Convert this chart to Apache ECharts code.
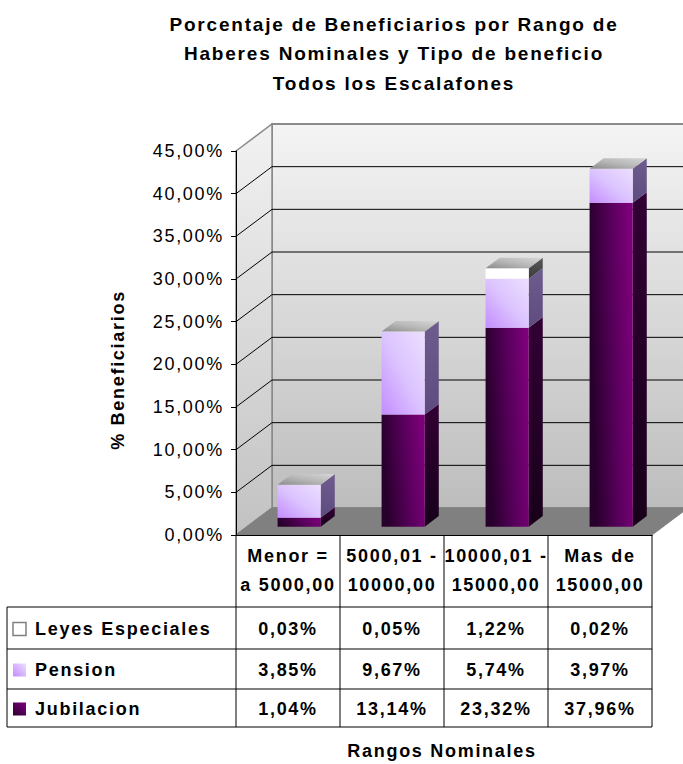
<!DOCTYPE html>
<html>
<head>
<meta charset="utf-8">
<script src="https://cdn.jsdelivr.net/npm/echarts@6/dist/echarts.min.js"></script>
<style>
html, body { margin: 0; padding: 0; background: #ffffff; }
#chart { width: 683px; height: 764px; }
#chart text { letter-spacing: 0.095em; }
</style>
</head>
<body>
<div id="chart"></div>
<script>
// ---------------- data ----------------
const categories = ['Menor =\na 5000,00', '5000,01 -\n10000,00', '10000,01 -\n15000,00', 'Mas de\n15000,00'];
const jubilacion = [1.04, 13.14, 23.32, 37.96];
const pension = [3.85, 9.67, 5.74, 3.97];
const leyesEspeciales = [0.03, 0.05, 1.22, 0.02];
const seriesNames = ['Jubilacion', 'Pension', 'Leyes Especiales'];
const yTicks = [0, 5, 10, 15, 20, 25, 30, 35, 40, 45];
const titleText = 'Porcentaje de Beneficiarios por Rango de\nHaberes Nominales y Tipo de beneficio\nTodos los Escalafones';
const yAxisTitle = '% Beneficiarios';
const xAxisTitle = 'Rangos Nominales';

// ---------------- styling ----------------
const FONT = '"Liberation Sans", Arial, sans-serif';
const DX = 36, DY = -27;            // depth of the 3D box
const BAR_FRONT = 0.31, BAR_DEPTH = 0.39, BAR_WIDTH = 0.415;
const TABLE_LEFT = 7;
const ROW_OFFSETS = [72, 114, 154, 192]; // header bottom and row bottoms below floor edge
const fmt = v => v.toFixed(2).replace('.', ',') + '%';
const LG = (x, y, x2, y2, stops) => new echarts.graphic.LinearGradient(x, y, x2, y2, stops.map((c, i) => ({ offset: i / (stops.length - 1), color: c })));

const seriesStyles = {
  'Jubilacion': {
    front: LG(0, 0.2, 1, 0, ['#28002c', '#58005c', '#82007e']),
    side: LG(0, 0, 0, 1, ['#320034', '#18001a']),
    key: LG(0, 1, 1, 0, ['#2a002e', '#800080'])
  },
  'Pension': {
    front: LG(0, 1, 1, 0, ['#c48cff', '#dcc4ff', '#ecdfff']),
    side: LG(0, 0, 0, 1, ['#6e5c8e', '#5e4c80']),
    key: LG(0, 1, 1, 0, ['#c48cff', '#ecdfff'])
  },
  'Leyes Especiales': {
    front: '#ffffff',
    side: LG(0, 0, 0, 1, ['#5a5a5a', '#3a3a3a']),
    key: '#ffffff'
  }
};
const topFill = LG(0, 1, 1, 0, ['#8c8c8c', '#b8b8b8', '#d6d6d6']);

const valuesByName = { 'Jubilacion': jubilacion, 'Pension': pension, 'Leyes Especiales': leyesEspeciales };
const tableRows = ['Leyes Especiales', 'Pension', 'Jubilacion'];

// ---------------- render functions ----------------
function renderWalls(params, api) {
  const cs = params.coordSys;
  const x0 = cs.x, x1 = cs.x + cs.width, yT = cs.y, yB = cs.y + cs.height;
  const children = [];
  children.push({ type: 'rect', shape: { x: x0 + DX, y: yT + DY, width: cs.width, height: cs.height },
    style: { fill: LG(0, 0, 0, 1, ['#f4f4f4', '#bdbdbd']), stroke: '#8a8a8a', lineWidth: 2 } });
  children.push({ type: 'polygon', shape: { points: [[x0, yB], [x0, yT], [x0 + DX, yT + DY], [x0 + DX, yB + DY]] },
    style: { fill: LG(0, 0, 0, 1, ['#f2f2f2', '#c2c2c2']), stroke: '#8a8a8a', lineWidth: 1.5 } });
  children.push({ type: 'polygon', shape: { points: [[x0, yB], [x1, yB], [x1 + DX, yB + DY], [x0 + DX, yB + DY]] },
    style: { fill: '#808080', stroke: '#808080', lineWidth: 1 } });
  const last = yTicks[yTicks.length - 1];
  yTicks.forEach(v => {
    if (v === yTicks[0] || v === last) return;
    const y = api.coord([0, v])[1];
    children.push({ type: 'line', shape: { x1: x0 + DX, y1: y + DY, x2: x1 + DX, y2: y + DY }, style: { stroke: '#000', lineWidth: 1 } });
    children.push({ type: 'line', shape: { x1: x0, y1: y, x2: x0 + DX, y2: y + DY }, style: { stroke: '#000', lineWidth: 1 } });
  });
  return { type: 'group', children };
}

function barItem(name, withTop) {
  const st = seriesStyles[name];
  return function (params, api) {
    const i = api.value(0), v = api.value(1), b = api.value(2);
    const band = api.size([1, 0])[0];
    const w = band * BAR_WIDTH;
    const fx = DX * BAR_FRONT, fy = DY * BAR_FRONT;
    const dx = DX * BAR_DEPTH, dy = DY * BAR_DEPTH;
    const pB = api.coord([i, b]), pT = api.coord([i, b + v]);
    const xl = pB[0] - w / 2 + fx, xr = xl + w;
    const yb = pB[1] + fy, yt = pT[1] + fy;
    const children = [
      { type: 'polygon', shape: { points: [[xr, yt], [xr + dx, yt + dy], [xr + dx, yb + dy], [xr, yb]] }, style: { fill: st.side } },
      { type: 'rect', shape: { x: xl, y: yt, width: w, height: yb - yt }, style: { fill: st.front } }
    ];
    if (withTop) {
      children.push({ type: 'polygon', shape: { points: [[xl, yt], [xr, yt], [xr + dx, yt + dy], [xl + dx, yt + dy]] }, style: { fill: topFill } });
    }
    return { type: 'group', children };
  };
}

function renderTable(params, api) {
  const i = api.value(0);
  const cs = params.coordSys;
  const c = api.coord([i, 0]);
  const band = api.size([1, 0])[0];
  const xl = c[0] - band / 2, xr = c[0] + band / 2;
  const y0 = cs.y + cs.height;
  const rowsY = ROW_OFFSETS.map(o => y0 + o);
  const ln = (x1, y1, x2, y2) => ({ type: 'line', shape: { x1, y1, x2, y2 }, style: { stroke: '#000', lineWidth: 1 } });
  const txt = (x, y, text, align) => ({ type: 'text', x, y, style: { text, align: align || 'center', verticalAlign: 'middle',
    font: 'bold 18px ' + FONT, fill: '#000', lineHeight: 29 } });
  const children = [];
  children.push(ln(xl, y0, xl, rowsY[3]));
  if (i === categories.length - 1) children.push(ln(xr, y0, xr, rowsY[3]));
  rowsY.forEach(y => children.push(ln(xl, y, xr, y)));
  children.push(txt(c[0], (y0 + rowsY[0]) / 2 - 1, categories[i]));
  tableRows.forEach((name, r) => {
    const yc = (rowsY[r] + rowsY[r + 1]) / 2 + 1;
    children.push(txt(c[0], yc, fmt(valuesByName[name][i])));
  });
  if (i === 0) {
    children.push(ln(TABLE_LEFT, rowsY[0], TABLE_LEFT, rowsY[3]));
    rowsY.forEach(y => children.push(ln(TABLE_LEFT, y, xl, y)));
    tableRows.forEach((name, r) => {
      const yc = (rowsY[r] + rowsY[r + 1]) / 2 + 1;
      children.push({ type: 'rect', shape: { x: TABLE_LEFT + 6, y: yc - 6.5, width: 13, height: 13 },
        style: { fill: seriesStyles[name].key, stroke: name === 'Leyes Especiales' ? '#808080' : null, lineWidth: 1.5 } });
      children.push(txt(TABLE_LEFT + 28, yc, name, 'left'));
    });
  }
  return { type: 'group', children };
}

// stacked bases
const bases = {};
let acc = categories.map(() => 0);
seriesNames.forEach(n => { bases[n] = acc.slice(); acc = acc.map((a, i) => a + valuesByName[n][i]); });

const option = {
  animation: false,
  backgroundColor: '#ffffff',
  grid: { left: 236, top: 151, width: 416, height: 384 },
  xAxis: {
    type: 'category', data: categories, z: 5,
    axisLine: { show: true, lineStyle: { color: '#000', width: 1 } },
    axisTick: { show: false }, axisLabel: { show: false }, splitLine: { show: false }
  },
  yAxis: {
    type: 'value', min: yTicks[0], max: yTicks[yTicks.length - 1], interval: yTicks[1] - yTicks[0], z: 5,
    axisLine: { show: true, lineStyle: { color: '#000', width: 1 } },
    axisTick: { show: true, length: 5, lineStyle: { color: '#000' } },
    axisLabel: { formatter: v => fmt(v), fontFamily: FONT, fontSize: 18, color: '#000', margin: 12 },
    splitLine: { show: false }
  },
  graphic: [
    { type: 'text', x: 394, y: 53.5, style: { text: titleText, align: 'center', verticalAlign: 'middle', lineHeight: 29.5,
      font: 'bold 19px ' + FONT, fill: '#000' } },
    { type: 'text', x: 118, y: 370, rotation: Math.PI / 2, style: { text: yAxisTitle, align: 'center', verticalAlign: 'middle',
      font: 'bold 18px ' + FONT, fill: '#000' } },
    { type: 'text', x: 442, y: 751, style: { text: xAxisTitle, align: 'center', verticalAlign: 'middle',
      font: 'bold 18px ' + FONT, fill: '#000' } }
  ],
  series: [
    { type: 'custom', name: 'walls', z: 1, silent: true, renderItem: renderWalls, data: [[0]], encode: { x: 0 } }
  ].concat(seriesNames.map((n, k) => ({
    type: 'custom', name: n, z: 2, renderItem: barItem(n, k === seriesNames.length - 1),
    data: categories.map((_, i) => [i, valuesByName[n][i], bases[n][i]]),
    encode: { x: 0, y: 1 }
  }))).concat([
    { type: 'custom', name: 'table', z: 3, silent: true, renderItem: renderTable,
      data: categories.map((_, i) => [i]), encode: { x: 0 } }
  ])
};

const chart = echarts.init(document.getElementById('chart'), null, { renderer: 'svg', width: 683, height: 764 });
chart.setOption(option);
</script>
</body>
</html>
